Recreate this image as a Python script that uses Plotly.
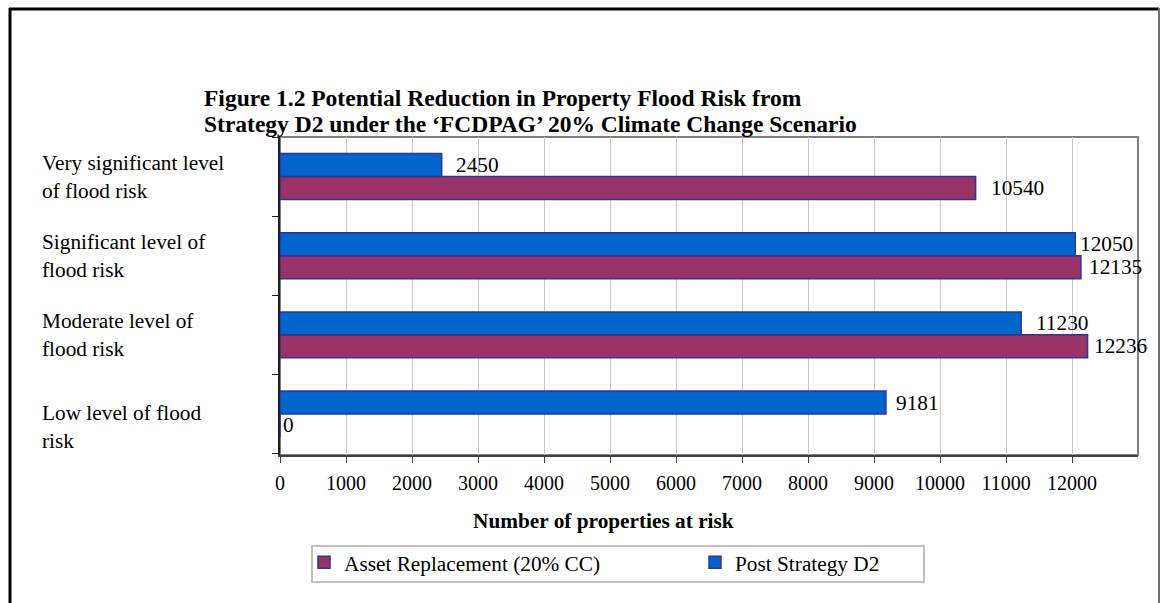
import plotly.graph_objects as go

# ---------------- data ----------------
categories = [
    "Low level of flood risk",
    "Moderate level of flood risk",
    "Significant level of flood risk",
    "Very significant level of flood risk",
]
category_labels = [
    "Low level of flood<br>risk",
    "Moderate level of<br>flood risk",
    "Significant level of<br>flood risk",
    "Very significant level<br>of flood risk",
]
asset_replacement = [0, 12236, 12135, 10540]
post_strategy_d2 = [9181, 11230, 12050, 2450]
x_tick_values = [0, 1000, 2000, 3000, 4000, 5000, 6000, 7000, 8000, 9000, 10000, 11000, 12000]
series_names = ["Asset Replacement (20% CC)", "Post Strategy D2"]
title_lines = [
    "Figure 1.2 Potential Reduction in Property Flood Risk from",
    "Strategy D2 under the \u2018FCDPAG\u2019 20% Climate Change Scenario",
]
x_title = "Number of properties at risk"

# ---------------- style / layout constants ----------------
W, H = 1161, 603
PL, PR, PT, PB = 280, 1138, 137, 455
FONT = "Liberation Serif, Times New Roman, serif"
FS = 21.3
PURPLE = "#993366"
BLUE = "#0066CC"
OUTLINE = "#333399"
BARGAP = 0.42
# horizontal gap (px) between bar end and its value label, per category
asset_label_gap = [1, 4, 6, 13]
post_label_gap = [8, 13, 3, 12]
label_yshift = [-13, 0, 0, 0]


def px_x(px):
    return (px - PL) / (PR - PL)


def px_y(py):
    return (PB - py) / (PB - PT)


fig = go.Figure()
for name, vals, col in [
    (series_names[0], asset_replacement, PURPLE),
    (series_names[1], post_strategy_d2, BLUE),
]:
    fig.add_trace(
        go.Bar(
            y=categories,
            x=vals,
            orientation="h",
            name=name,
            marker=dict(color=col, line=dict(color=OUTLINE, width=1.5)),
            cliponaxis=False,
        )
    )

fig.update_layout(
    width=W,
    height=H,
    margin=dict(l=PL, r=W - PR, t=PT, b=H - PB, autoexpand=False),
    paper_bgcolor="white",
    plot_bgcolor="white",
    barmode="group",
    bargap=BARGAP,
    bargroupgap=0,
    font=dict(family=FONT, size=FS, color="black"),
    showlegend=True,
    legend=dict(
        orientation="h",
        x=px_x(304),
        xanchor="left",
        y=px_y(542),
        yanchor="top",
        bgcolor="rgba(0,0,0,0)",
        borderwidth=0,
        font=dict(family=FONT, size=FS, color="black"),
        entrywidth=346,
        entrywidthmode="pixels",
        traceorder="normal",
    ),
    xaxis=dict(
        range=[0, 13000],
        tickvals=x_tick_values,
        ticktext=[str(v) for v in x_tick_values],
        tickfont=dict(family=FONT, size=20, color="black"),
        ticklabelstandoff=3,
        showgrid=True,
        gridcolor="#c8c8c8",
        gridwidth=1,
        ticks="outside",
        ticklen=6,
        tickcolor="#404040",
        showline=True,
        linecolor="#404040",
        linewidth=2,
        zeroline=False,
        fixedrange=True,
    ),
    yaxis=dict(
        categoryorder="array",
        categoryarray=categories,
        showticklabels=False,
        ticks="outside",
        ticklen=6,
        tickson="boundaries",
        tickcolor="#202020",
        showline=True,
        linecolor="#202020",
        linewidth=2,
        showgrid=False,
        zeroline=False,
        fixedrange=True,
    ),
)

shapes = []
# plot area border (top / right in gray)
shapes.append(dict(type="rect", xref="paper", yref="paper", x0=0, x1=1, y0=0, y1=1,
                   line=dict(color="#808080", width=2), layer="below"))
# outer frame
shapes.append(dict(type="line", xref="paper", yref="paper", x0=px_x(10), x1=px_x(10),
                   y0=px_y(8), y1=px_y(620), line=dict(color="black", width=3)))
shapes.append(dict(type="line", xref="paper", yref="paper", x0=px_x(9), x1=px_x(1159),
                   y0=px_y(9), y1=px_y(9), line=dict(color="black", width=3)))
shapes.append(dict(type="line", xref="paper", yref="paper", x0=px_x(1159), x1=px_x(1159),
                   y0=px_y(8), y1=px_y(620), line=dict(color="#707070", width=2)))
# legend box
shapes.append(dict(type="rect", xref="paper", yref="paper", x0=px_x(312), x1=px_x(924),
                   y0=px_y(582), y1=px_y(546), line=dict(color="#c0c0c0", width=2),
                   fillcolor="white", layer="below"))
fig.update_layout(shapes=shapes)

annotations = []
for i, line in enumerate(title_lines):
    annotations.append(dict(text="<b>" + line + "</b>", xref="paper", yref="paper",
                            x=px_x(202), y=px_y(98 + 26 * i), xanchor="left", yanchor="middle",
                            showarrow=False, font=dict(family=FONT, size=23.5, color="black")))
for cat, lab, ys in zip(categories, category_labels, label_yshift):
    annotations.append(dict(text=lab, xref="paper", yref="y", x=px_x(40), y=cat,
                            xanchor="left", yanchor="middle", align="left", yshift=ys,
                            showarrow=False, font=dict(family=FONT, size=FS, color="black")))
annotations.append(dict(text="<b>" + x_title + "</b>", xref="paper", yref="paper",
                        x=px_x(603), y=px_y(521), xanchor="center", yanchor="middle",
                        showarrow=False, font=dict(family=FONT, size=FS, color="black")))

# value labels next to bars (positioned on data axes)
half = (1 - BARGAP) / 4  # offset of each bar centre from its category centre
for vals, gaps, sign in [(asset_replacement, asset_label_gap, -1), (post_strategy_d2, post_label_gap, 1)]:
    for i, (v, g) in enumerate(zip(vals, gaps)):
        annotations.append(dict(text=str(v), xref="x", yref="y", x=v, y=i + sign * half,
                                xanchor="left", yanchor="middle", xshift=g, showarrow=False,
                                font=dict(family=FONT, size=FS, color="black")))
fig.update_layout(annotations=annotations)

fig.write_html("out.html")
